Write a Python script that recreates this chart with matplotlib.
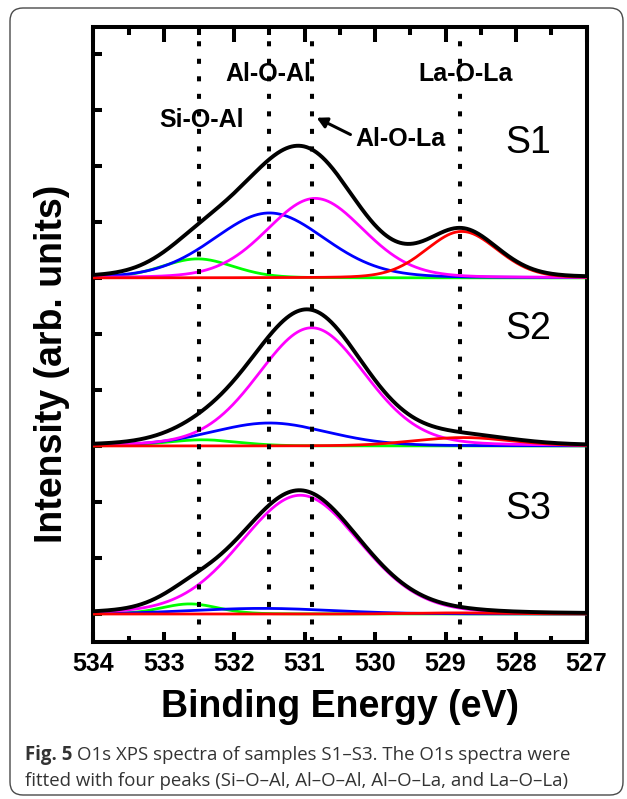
import numpy as np
import matplotlib
matplotlib.use("Agg")
import matplotlib.pyplot as plt
from matplotlib.patches import FancyBboxPatch
from matplotlib.ticker import MultipleLocator

# ---- data -------------------------------------------------------------
samples = ["S1", "S2", "S3"]
sample_offsets = [6.0, 3.0, 0.0]

peak_names = ["Si-O-Al", "Al-O-Al", "Al-O-La", "La-O-La"]
peak_colors = ["#00ff00", "#0000ff", "#ff00ff", "#ff0000"]
bond_positions = [532.5, 531.5, 530.9, 528.8]

# fitted components per sample: centre (eV), height (arb.), FWHM (eV)
s1_centers = [532.52, 531.50, 530.85, 528.77]
s1_heights = [0.34, 1.16, 1.42, 0.83]
s1_fwhm = [1.20, 1.86, 1.62, 1.20]

s2_centers = [532.45, 531.50, 530.90, 528.75]
s2_heights = [0.11, 0.41, 2.11, 0.15]
s2_fwhm = [1.20, 1.95, 1.80, 1.65]

s3_centers = [532.63, 531.60, 531.06, 528.80]
s3_heights = [0.18, 0.10, 2.12, 0.02]
s3_fwhm = [0.95, 2.40, 2.00, 1.50]

lorentz_fraction = 0.15
x_ticks = [534, 533, 532, 531, 530, 529, 528, 527]

# ---- helpers ------------------------------------------------------------
def pseudo_voigt(x, c, h, w, eta=lorentz_fraction):
    d2 = (x - c) ** 2 / w ** 2
    g = np.exp(-4 * np.log(2) * d2)
    l = 1.0 / (1.0 + 4 * d2)
    return h * ((1 - eta) * g + eta * l)

W, H, DPI = 627, 799, 100
fig = plt.figure(figsize=(W / DPI, H / DPI), dpi=DPI)
plt.rcParams["font.family"] = ["Liberation Sans", "DejaVu Sans"]

# frame around the figure and caption
bg = fig.add_axes([0, 0, 1, 1])
bg.set_xlim(0, W)
bg.set_ylim(H, 0)
bg.axis("off")
bg.add_patch(FancyBboxPatch((10, 8), 613, 787,
                            boxstyle="round,pad=0,rounding_size=13",
                            fill=False, ec="#4a4a4a", lw=1.0))

# main axes (pixel box 93..587 x 27..642)
ax_l, ax_r, ax_t, ax_b = 93.3, 586.5, 27.0, 642.0
ax = fig.add_axes([ax_l / W, 1 - ax_b / H, (ax_r - ax_l) / W, (ax_b - ax_t) / H])
ax.set_xlim(534, 527)
ax.set_ylim(-0.5, 10.48)

energy = np.linspace(527, 534, 1401)
params = [(s1_centers, s1_heights, s1_fwhm),
          (s2_centers, s2_heights, s2_fwhm),
          (s3_centers, s3_heights, s3_fwhm)]

for (cs, hs, ws), off in zip(params, sample_offsets):
    total = np.zeros_like(energy)
    comps = []
    for c, h, w in zip(cs, hs, ws):
        y = pseudo_voigt(energy, c, h, w)
        comps.append(y)
        total += y
    for y, col in zip(comps, peak_colors):
        ax.plot(energy, y + off, color=col, lw=2.0, zorder=3)
    ax.plot(energy, total + off, color="black", lw=2.8, zorder=4)

for xb in bond_positions:
    ax.axvline(xb, color="black", lw=2.9, dashes=(1.25, 3.1),
               dash_capstyle="butt", zorder=6)

# bond labels (drawn beneath the dotted markers)
lbl = dict(fontsize=18, fontweight="bold", ha="center", va="center", zorder=2)
ax.text(531.51, 9.64, "Al-O-Al", **lbl)
ax.text(528.72, 9.64, "La-O-La", **lbl)
ax.text(532.47, 8.82, "Si-O-Al", **lbl)
ax.text(529.64, 8.48, "Al-O-La", **lbl)
ax.annotate("", xy=(530.83, 8.86), xytext=(530.35, 8.56),
            arrowprops=dict(arrowstyle="-|>,head_length=0.6,head_width=0.32",
                            color="black", lw=2.2, shrinkA=0, shrinkB=0),
            zorder=2)

for name, yy in zip(samples, [8.41, 5.09, 1.875]):
    ax.text(527.82, yy, name, fontsize=27, ha="center", va="center", zorder=2)

# axes styling
for sp in ax.spines.values():
    sp.set_linewidth(2.9)
ax.set_xticks(x_ticks)
ax.set_xticklabels([str(t) for t in x_ticks])
ax.xaxis.set_minor_locator(MultipleLocator(0.5))
ax.set_yticks(np.arange(0, 11))
ax.set_yticklabels([])
ax.tick_params(axis="x", which="major", direction="in", top=False, bottom=True,
               length=7.5, width=2.9, labelsize=18, pad=7)
ax.tick_params(axis="x", which="minor", direction="in", top=False, bottom=True,
               length=4.2, width=2.9)
ax.tick_params(axis="y", which="major", direction="in", left=True, right=False,
               length=6.5, width=2.9)
for t in ax.get_xticklabels():
    t.set_fontweight("bold")

# top edge carries longer inward ticks
top = ax.twiny()
top.set_xlim(ax.get_xlim())
top.set_xticks(x_ticks)
top.set_xticklabels([])
top.xaxis.set_minor_locator(MultipleLocator(0.5))
top.tick_params(axis="x", which="major", direction="in", length=11, width=2.9)
top.tick_params(axis="x", which="minor", direction="in", length=5.5, width=2.9)
for sp in top.spines.values():
    sp.set_visible(False)

fig.text(340 / W, 1 - 707 / H, "Binding Energy (eV)", fontsize=27,
         fontweight="bold", ha="center", va="center")
fig.text(52 / W, 1 - 364 / H, "Intensity (arb. units)", fontsize=27,
         fontweight="bold", ha="center", va="center", rotation=90)

# caption
cap_color = "#333333"
cap_font = ["Open Sans", "DejaVu Sans"]
cap_size = 13.4
t1 = fig.text(25 / W, 1 - 760 / H, "Fig. 5", fontsize=cap_size, fontweight="bold",
              family=cap_font, color=cap_color, ha="left", va="baseline")
fig.canvas.draw()
bb = t1.get_window_extent(fig.canvas.get_renderer())
fig.text(bb.x1 / W + 5 / W, 1 - 760 / H,
         "O1s XPS spectra of samples S1\u2013S3. The O1s spectra were",
         fontsize=cap_size, family=cap_font, color=cap_color, ha="left", va="baseline")
fig.text(25 / W, 1 - 786 / H,
         "fitted with four peaks (Si\u2013O\u2013Al, Al\u2013O\u2013Al, Al\u2013O\u2013La, and La\u2013O\u2013La)",
         fontsize=cap_size, family=cap_font, color=cap_color, ha="left", va="baseline")

fig.savefig("out.png", dpi=DPI)
